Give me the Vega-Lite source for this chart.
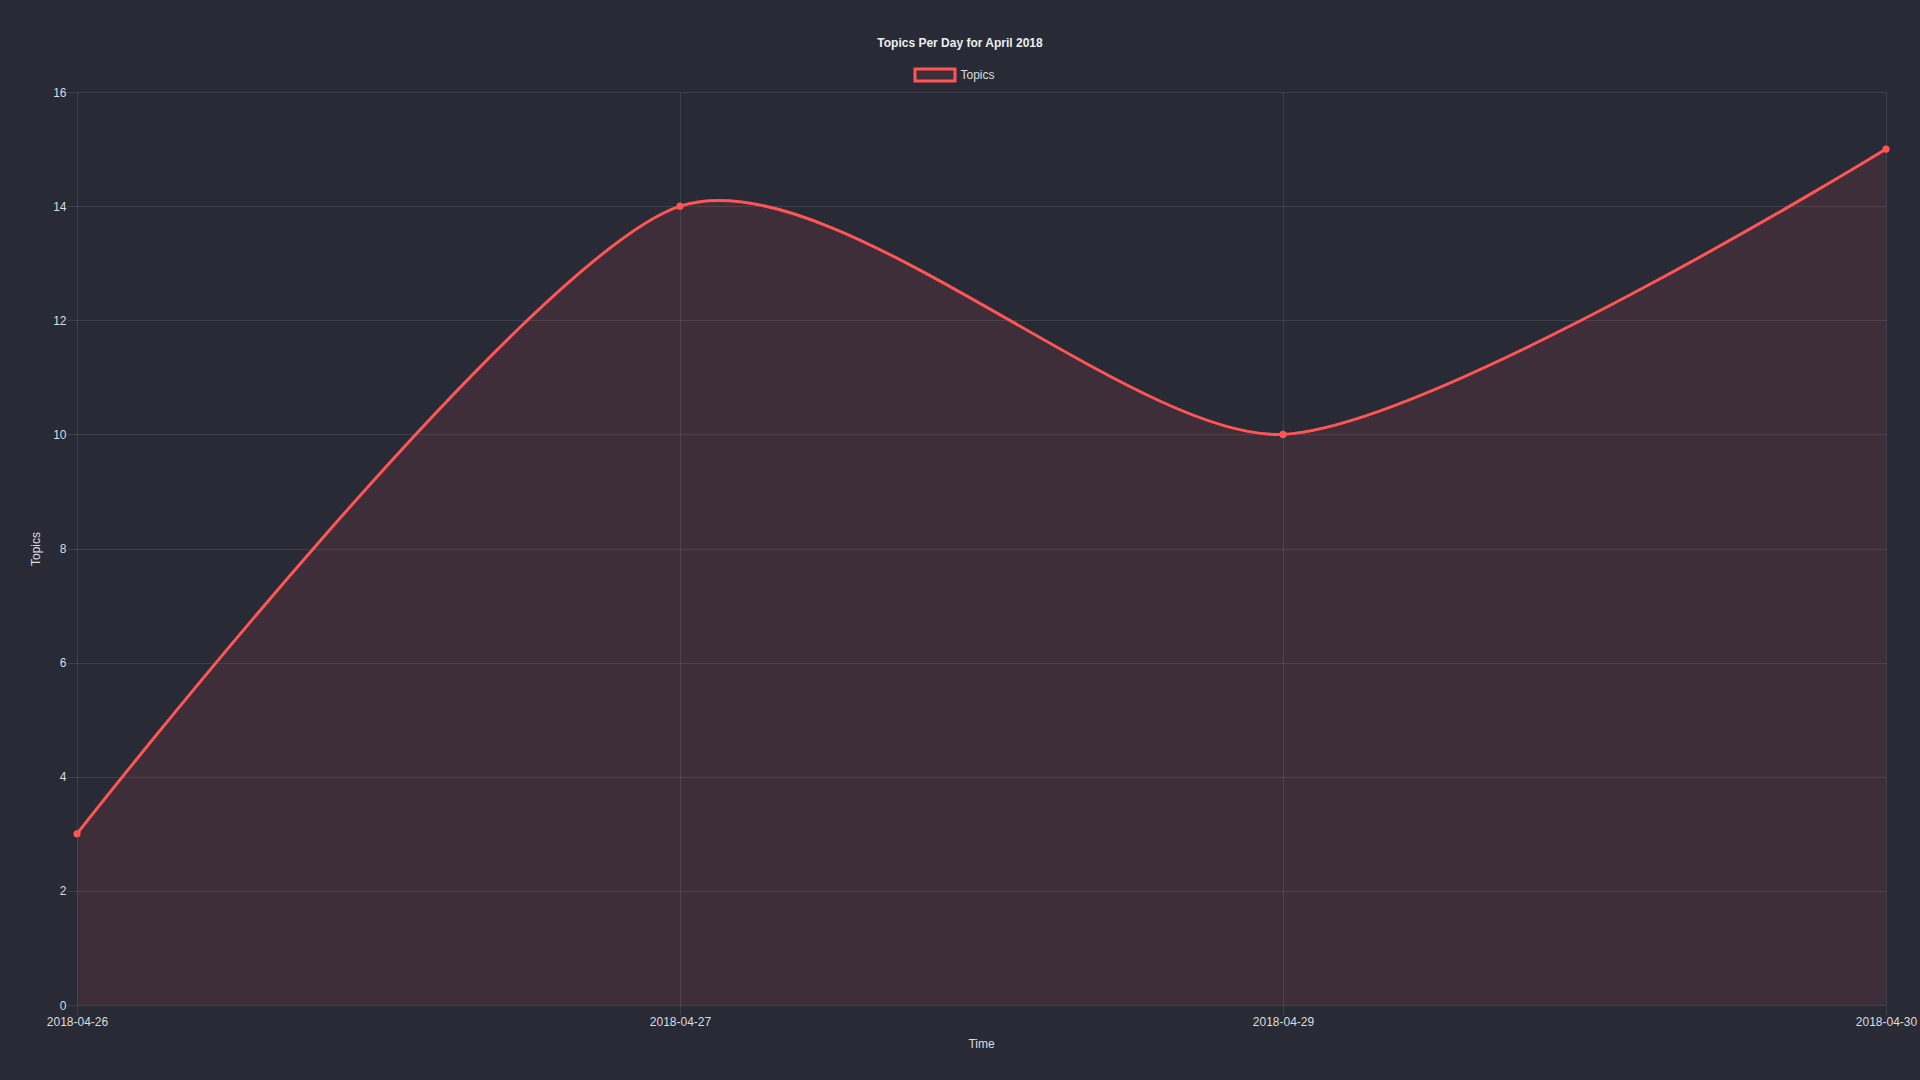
{
  "$schema": "https://vega.github.io/schema/vega-lite/v6.json",
  "width": 1809,
  "height": 913,
  "autosize": {"type": "none"},
  "padding": {"left": 77, "top": 92, "right": 34, "bottom": 75},
  "background": "#282a36",
  "title": {
    "text": "Topics Per Day for April 2018",
    "anchor": "middle",
    "frame": "group",
    "dx": -21.5,
    "offset": -1,
    "baseline": "middle",
    "font": "Liberation Sans",
    "fontSize": 12,
    "fontWeight": "bold",
    "color": "#eeeeee"
  },
  "config": {
    "view": {"stroke": null},
    "font": "Liberation Sans"
  },
  "data": {
    "values": [
      {"date": "2018-04-26", "topics": 3, "series": "Topics"},
      {"date": "2018-04-27", "topics": 14, "series": "Topics"},
      {"date": "2018-04-29", "topics": 10, "series": "Topics"},
      {"date": "2018-04-30", "topics": 15, "series": "Topics"}
    ]
  },
  "encoding": {
    "x": {
      "field": "date",
      "type": "ordinal",
      "scale": {"type": "point", "padding": 0},
      "axis": {
        "title": "Time",
        "titleX": 904,
        "titleY": 38,
        "titleBaseline": "middle",
        "titleFont": "Liberation Sans",
        "titleFontSize": 12,
        "titleFontWeight": "normal",
        "titleColor": "#dddddd",
        "labelAngle": 0,
        "labelFont": "Liberation Sans",
        "labelFontSize": 12,
        "labelColor": "#dddddd",
        "labelPadding": 1,
        "grid": true,
        "gridColor": "#ffffff",
        "gridOpacity": 0.1,
        "domain": false,
        "ticks": true,
        "tickSize": 10,
        "tickColor": "#ffffff",
        "tickOpacity": 0.1
      }
    },
    "y": {
      "field": "topics",
      "type": "quantitative",
      "scale": {"domain": [0, 16], "nice": false},
      "axis": {
        "title": "Topics",
        "titleX": -41.5,
        "titleY": 456.5,
        "titleAngle": -90,
        "titleAlign": "center",
        "titleBaseline": "middle",
        "titleFont": "Liberation Sans",
        "titleFontSize": 12,
        "titleFontWeight": "normal",
        "titleColor": "#dddddd",
        "values": [0, 2, 4, 6, 8, 10, 12, 14, 16],
        "labelFont": "Liberation Sans",
        "labelFontSize": 12,
        "labelColor": "#dddddd",
        "labelPadding": 1,
        "grid": true,
        "gridColor": "#ffffff",
        "gridOpacity": 0.1,
        "domain": false,
        "ticks": true,
        "tickSize": 10,
        "tickColor": "#ffffff",
        "tickOpacity": 0.1
      }
    }
  },
  "layer": [
    {
      "mark": {"type": "area", "interpolate": "cardinal", "tension": 0.25, "color": "#ff5555", "fillOpacity": 0.1}
    },
    {
      "mark": {"type": "line", "interpolate": "cardinal", "tension": 0.25, "strokeWidth": 3},
      "encoding": {
        "color": {
          "field": "series",
          "type": "nominal",
          "scale": {"range": ["#ff5555"]},
          "legend": {
            "title": null,
            "orient": "none",
            "legendX": 836.5,
            "legendY": -38.5,
            "padding": 0,
            "symbolType": "M-1,-0.3L1,-0.3L1,0.3L-1,0.3Z",
            "symbolSize": 1600,
            "symbolStrokeWidth": 3,
            "labelOffset": 4,
            "labelFont": "Liberation Sans",
            "labelFontSize": 12,
            "labelColor": "#dddddd",
            "encode": {
              "symbols": {
                "update": {
                  "fill": {"value": "rgba(255,85,85,0.1)"},
                  "stroke": {"value": "#ff5555"},
                  "strokeWidth": {"value": 3},
                  "opacity": {"value": 1}
                }
              }
            }
          }
        }
      }
    },
    {
      "mark": {"type": "point", "filled": true, "size": 52, "opacity": 1, "color": "#ff5555"}
    }
  ]
}
